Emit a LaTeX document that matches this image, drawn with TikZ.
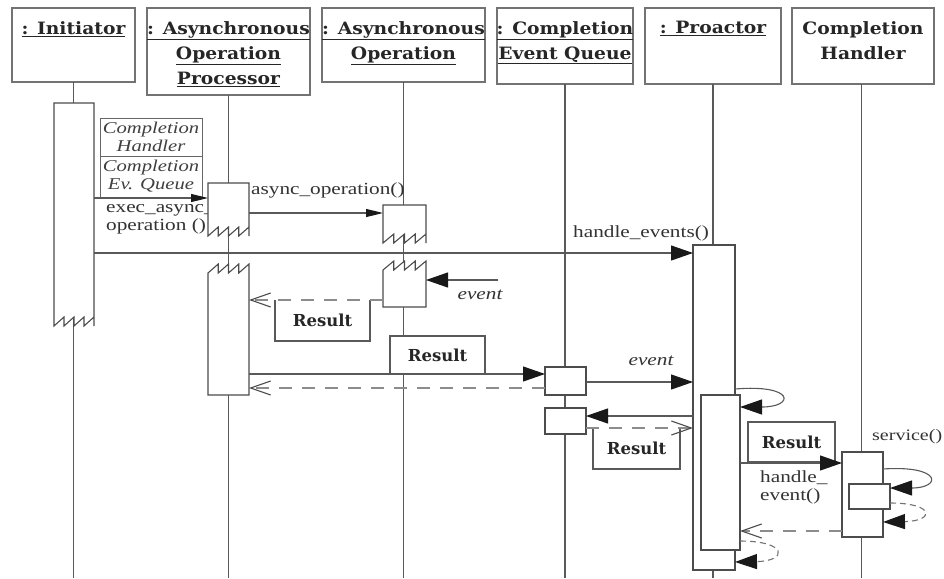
\documentclass[tikz,border=0pt]{standalone}
\usepackage{fontspec}
\setmainfont{Liberation Serif}
\newfontfamily\hdrfont{DejaVu Serif}[FakeStretch=1.1]
\newfontfamily\resfont{DejaVu Serif}
\newfontfamily\lblfont{Liberation Serif}[FakeStretch=1.25]
\usetikzlibrary{arrows.meta}
\newcommand\sawbot[5]{%
  \draw[act] (#1,#3) -- (#1,#4) \foreach \k in {1,...,#5}{ -- ({#1+(#2-#1)*\k/#5},{#4-9}) -- ({#1+(#2-#1)*\k/#5},#4) } -- (#2,#3) -- cycle;}
\newcommand\sawtop[5]{%
  \draw[act] (#1,#4) -- (#1,#3) \foreach \k in {1,...,#5}{ -- ({#1+(#2-#1)*\k/#5},{#3-9}) -- ({#1+(#2-#1)*\k/#5},#3) } -- (#2,#4) -- cycle;}
\begin{document}
\begin{tikzpicture}[x=1pt,y=-1pt,
  ln/.style={draw=black!65,line width=1.1pt},
  hbox/.style={draw=black!55,line width=1.5pt,fill=white,inner sep=0pt,outer sep=0pt},
  htext/.style={font=\hdrfont\bfseries\fontsize{17}{25}\selectfont,align=center,anchor=north,inner sep=0pt,text=black!85},
  act/.style={draw=black!70,line width=1.1pt,fill=white,inner sep=0pt,outer sep=0pt},
  ghost/.style={draw=none,inner sep=0pt,outer sep=0pt},
  tok/.style={draw=black!60,line width=1pt,fill=white,inner sep=0pt,outer sep=0pt,align=center,
    font=\lblfont\itshape\fontsize{16.5}{18}\selectfont,text=black!75},
  lbl/.style={font=\lblfont\fontsize{17}{18}\selectfont,inner sep=0pt,text=black!80},
  ilbl/.style={font=\lblfont\itshape\fontsize{17}{18}\selectfont,inner sep=0pt,text=black!80},
  res/.style={font=\resfont\bfseries\fontsize{16.5}{18}\selectfont,inner sep=0pt,outer sep=0pt,text=black!85},
  msg/.style={ln,-{Triangle[length=22pt,width=15pt,color=black!90]}},
  msgs/.style={ln,-{Triangle[length=17pt,width=8pt,color=black!90]}},
  ret/.style={draw=black!45,line width=1.1pt,dash pattern=on 13pt off 10pt,-{Straight Barb[length=20pt,width=14pt,color=black!70]}},
  sret/.style={draw=black!55,line width=1.1pt,dash pattern=on 6pt off 4pt,-{Triangle[length=22pt,width=15pt,color=black!90]}}
]
\useasboundingbox (0,0) rectangle (944,578);
\fill[white] (0,0) rectangle (944,578);

% headers
\node[hbox,minimum width=123pt,minimum height=74pt] (ini) at (73.5,45) {};
\node[hbox,minimum width=163pt,minimum height=87pt] (aop) at (228.5,51.5) {};
\node[hbox,minimum width=163pt,minimum height=74pt] (ao) at (403.5,45) {};
\node[hbox,minimum width=136pt,minimum height=76pt] (ceq) at (565,46) {};
\node[hbox,minimum width=136pt,minimum height=76pt] (pro) at (713,46) {};
\node[hbox,minimum width=142pt,minimum height=76pt] (ch) at (863,46) {};
\node[htext] (iniT) at (73.5,21) {\underline{: Initiator}};
\node[htext] (aopT) at (228.5,21) {\underline{: Asynchronous}\\\underline{Operation}\\\underline{Processor}};
\node[htext] (aoT) at (403.5,21) {\underline{: Asynchronous}\\\underline{Operation}};
\node[htext] (ceqT) at (565,21) {\underline{: Completion}\\\underline{Event Queue}};
\node[htext] (proT) at (713,21) {\underline{: Proactor}};
\node[htext] (chT) at (863,21) {Completion\\Handler};

% lifelines
\draw[ln] (ini.south) -- (ini.south |- 0,578);
\draw[ln] (aop.south) -- (aop.south |- 0,578);
\draw[ln] (ao.south) -- (ao.south |- 0,578);
\draw[ln] (ceq.south) -- (ceq.south |- 0,578);
\draw[ln] (pro.south) -- (pro.south |- 0,578);
\draw[ln] ([xshift=-1.5pt]ch.south) -- ([xshift=-1.5pt]ch.south |- 0,578);

% label partly covered by activation
\node[lbl,align=left,anchor=north west] (execL) at (106,204) {exec\_async\_\\operation ()};

% activations with zigzag ends
\node[ghost,minimum width=40pt,minimum height=223pt] (iniA) at (74,214.5) {};
\sawbot{54}{94}{103}{326}{4}
\node[ghost,minimum width=41pt,minimum height=53pt] (aopA1) at (228.5,209.5) {};
\sawbot{208}{249}{183}{236}{4}
\node[ghost,minimum width=43pt,minimum height=38pt] (aoA1) at (404.5,224) {};
\sawbot{383}{426}{205}{243}{4}
\node[ghost,minimum width=41pt,minimum height=130pt] (aopA2) at (228.5,330) {};
\sawtop{208}{249}{273}{395}{4}
\node[ghost,minimum width=43pt,minimum height=45pt] (aoA2) at (404.5,284.5) {};
\sawtop{383}{426}{270}{307}{4}

% tokens
\node[tok,minimum width=102pt,minimum height=38pt] (tokH) at (151,137) {Completion\\Handler};
\node[tok,minimum width=102pt,minimum height=41pt] (tokQ) at (151,176.5) {Completion\\Ev. Queue};

% other activations
\node[act,minimum width=41pt,minimum height=28pt] (ceqB1) at (565.5,381) {};
\node[act,minimum width=41pt,minimum height=26pt] (ceqB2) at (565.5,421) {};
\node[act,minimum width=42pt,minimum height=325pt] (proA1) at (714,407.5) {};
\node[act,minimum width=39pt,minimum height=155pt] (proA2) at (720.5,472.5) {};
\node[act,minimum width=41pt,minimum height=85pt] (chA) at (862.5,494.5) {};
\node[act,minimum width=41pt,minimum height=25pt] (chB) at (869.5,496.5) {};

% result boxes
\node[res,minimum width=95pt,minimum height=41pt] (r1) at (322.5,320.5) {Result};
\draw[ln] (r1.north west) -- (r1.south west) -- (r1.south east) -- (r1.north east);
\node[res,ln,fill=white,minimum width=95pt,minimum height=38pt] (r2) at (437.5,355) {Result};
\node[res,minimum width=87pt,minimum height=41pt] (r3) at (636.5,448.5) {Result};
\draw[ln] (r3.north west) -- (r3.south west) -- (r3.south east) -- (r3.north east);
\node[res,ln,fill=white,minimum width=87pt,minimum height=40pt] (r4) at (791.5,442) {Result};

% messages
\coordinate (ev1) at (498,280);
\draw[msgs] (iniA.east |- 0,198) -- (aopA1.west |- 0,198);
\draw[msgs] (aopA1.east |- 0,213) -- (aoA1.west |- 0,213);
\draw[msg] (iniA.east |- 0,253) -- (proA1.west |- 0,253);
\draw[msg] (ev1) -- (aoA2.east |- ev1);
\draw[ret] (aoA2.west |- 0,300) -- (aopA2.east |- 0,300);
\draw[msg] (aopA2.east |- 0,374) -- (ceqB1.west |- 0,374);
\draw[ret] (ceqB1.west |- 0,388) -- (aopA2.east |- 0,388);
\draw[msg] (ceqB1.east |- 0,382) -- (proA1.west |- 0,382);
\draw[msg] (proA1.east |- 0,389) .. controls (795,384) and (795,407) .. (proA2.east |- 0,407);
\draw[msg] (proA1.west |- 0,416) -- (ceqB2.east |- 0,416);
\draw[ret] (ceqB2.east |- 0,428) -- (proA1.west |- 0,428);
\draw[msg] (proA2.east |- 0,463) -- (chA.west |- 0,463);
\draw[msg] (chA.east |- 0,469) .. controls (942,465) and (942,488) .. (chB.east |- 0,488);
\draw[sret] (chB.east |- 0,503) .. controls (935,503) and (935,521) .. (chA.east |- 0,522);
\draw[ret] (chA.west |- 0,531) -- (proA2.east |- 0,531);
\draw[sret] (proA2.east |- 0,541) .. controls (788,541) and (788,561) .. (proA1.east |- 0,562);

% labels
\node[lbl,anchor=west] (asyncL) at (251,190) {async\_operation()};
\node[lbl,anchor=west] (heL) at (573,233) {handle\_events()};
\node[ilbl] (ev1L) at (480,295) {event};
\node[ilbl] (ev2L) at (651,361) {event};
\node[lbl,align=left,anchor=north west] (hL) at (760,470) {handle\_\\event()};
\node[lbl,anchor=west,font=\lblfont\fontsize{16}{18}\selectfont] (svL) at (872,437) {service()};
\end{tikzpicture}
\end{document}
